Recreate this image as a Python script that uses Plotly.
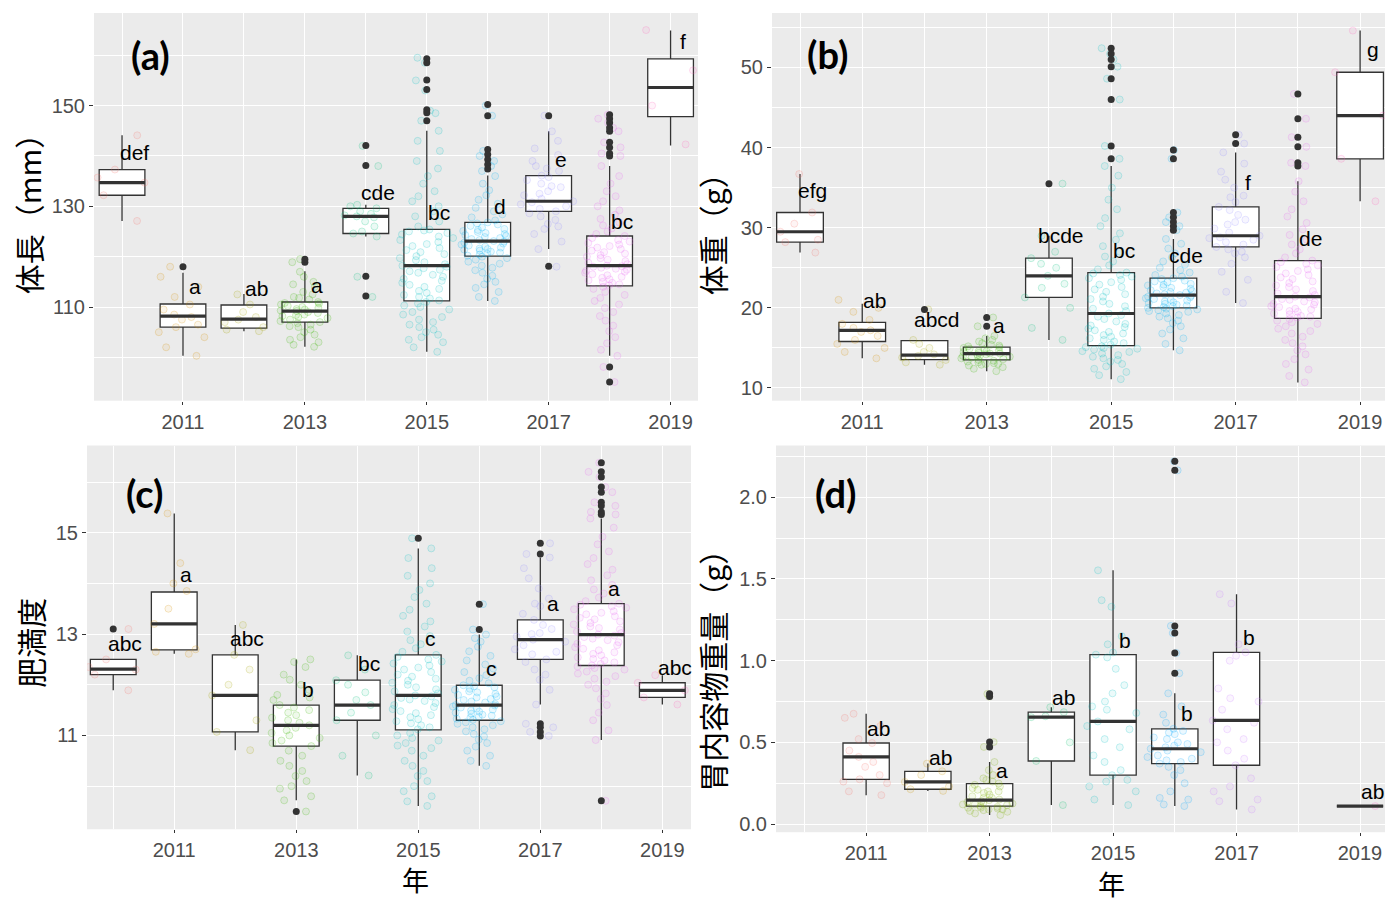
import plotly.graph_objects as go

# ---------------- data ----------------
YEARS10 = [2010, 2011, 2012, 2013, 2014, 2015, 2016, 2017, 2018, 2019]
YEARS8 = [2011, 2012, 2013, 2014, 2015, 2016, 2017, 2019]
PAL10 = ["#F8766D", "#D89000", "#A3A500", "#39B600", "#00BF7D",
         "#00BFC4", "#00B0F6", "#9590FF", "#E76BF3", "#FF62BC"]
PAL8 = ["#F8766D", "#CD9600", "#7CAE00", "#00BE67",
        "#00BFC4", "#00A9FF", "#C77CFF", "#FF61CC"]
TICK_YEARS = [2011, 2013, 2015, 2017, 2019]

# (a) 体長 (mm)
a_q1 = [132.2, 106.0, 105.8, 107.0, 124.6, 111.2, 120.1, 129.0, 114.2, 147.8]
a_med = [134.7, 108.2, 107.6, 109.2, 128.0, 118.2, 123.1, 131.0, 118.2, 153.6]
a_q3 = [137.3, 110.6, 110.4, 111.0, 129.6, 125.4, 126.8, 136.1, 124.1, 159.3]
a_lo = [127.1, 100.3, 105.2, 102.1, 124.0, 101.1, 111.2, 121.5, 100.3, 142.1]
a_hi = [144.1, 116.8, 112.6, 117.1, 130.3, 145.0, 136.1, 144.9, 138.0, 164.9]
a_let = ["def", "a", "ab", "a", "cde", "bc", "d", "e", "bc", "f"]
a_let_y = [140.7, 114.0, 113.6, 114.2, 132.8, 128.8, 130.0, 139.3, 127.0, 162.7]
a_out = {2011: [118.0], 2013: [118.9, 119.5], 2014: [142.1, 138.1, 116.1, 112.2],
         2015: [159.3, 158.5, 155.1, 153.2, 149.2, 148.6, 147.0],
         2016: [150.2, 148.0, 141.3, 140.3, 139.3, 138.3, 137.4],
         2017: [148.0, 118.1],
         2018: [148.2, 147.4, 146.6, 145.6, 144.9, 142.7, 141.7, 140.5, 140.0, 98.1, 95.1]}
a_pts = {
    2010: [144.1, 137.3, 135.7, 134.7, 132.2, 127.1],
    2011: [118, 116, 114, 112, 110.5, 109.5, 108.5, 108, 107.5, 106.5, 106, 105, 104, 102, 100.3],
    2012: [112.5, 110.5, 109, 108, 107.5, 107, 106, 105.5, 105.2],
    2013: [119.5, 118.9, 117, 116, 115, 114.5, 114, 113, 112.5, 112, 111.5, 111, 110.8, 110.5, 110.2,
           110, 109.8, 109.5, 109.3, 109.2, 109, 108.8, 108.5, 108.2, 108, 107.8, 107.5, 107.2, 107,
           106.8, 106.5, 106.2, 106, 105.5, 105, 104.5, 104, 103.5, 103, 102.5, 102.1, 110.7, 109.6,
           108.4, 111.8],
    2014: [142, 138, 130.3, 130, 129.6, 129, 128.5, 128.2, 128, 127.8, 127, 126, 125, 124.6, 124, 116, 112],
    2015: [101.1, 102, 103, 103.5, 104, 104.5, 105, 105.5, 106, 106.5, 107, 107.5, 108, 108.5, 109,
           109.5, 110, 110.3, 110.7, 111, 111.3, 111.7, 112, 112.4, 112.8, 113.2, 113.6, 114, 114.4,
           114.8, 115.2, 115.6, 116, 116.4, 116.8, 117.1, 117.4, 117.7, 118, 118.2, 118.5, 118.9,
           119.3, 119.7, 120.1, 120.5, 120.9, 121.3, 121.7, 122.1, 122.5, 122.9, 123.3, 123.7, 124,
           124.4, 124.7, 125, 125.2, 125.4, 126, 127, 128, 129, 130, 131, 132, 133, 134.5, 136, 137.5,
           139, 141, 143, 145, 147, 148.5, 149, 153, 155, 158.5, 159.5],
    2016: [111.2, 112, 113, 113.8, 114.5, 115, 115.6, 116.2, 116.8, 117.3, 117.8, 118.2, 118.6, 119,
           119.4, 119.7, 120, 120.2, 120.4, 120.6, 120.8, 121, 121.2, 121.4, 121.6, 121.8, 122, 122.2,
           122.4, 122.6, 122.8, 123, 123.1, 121.5, 123.3, 123.5, 123.7, 123.9, 124.1, 124.3, 124.5,
           124.7, 124.9, 125.1, 125.3, 125.5, 125.8, 126.1, 126.4, 126.6, 126.8, 127.2, 127.8, 128.4,
           129, 129.7, 130.5, 131.3, 132.2, 133.2, 134.5, 136, 137, 138, 139, 140, 141, 148, 150],
    2017: [118, 121.5, 123, 124.5, 125.5, 126.5, 127.3, 128, 128.6, 129, 129.5, 130, 130.4, 130.8,
           131, 131.5, 132.2, 133, 133.8, 134.5, 135.2, 135.8, 136.1, 137, 138, 139, 140.2, 141.5,
           143, 144.9, 148, 137.5, 126, 132.5, 134],
    2018: [95.1, 98.1, 100.3, 101.5, 102.8, 104, 105.2, 106.3, 107.3, 108.2, 109, 109.8, 110.5,
           111.2, 111.8, 112.4, 113, 113.6, 114, 114.3, 114.5, 114.8, 115, 115.3, 115.5, 115.8, 116,
           116.3, 116.5, 116.8, 117, 117.2, 117.4, 117.6, 117.8, 118, 118.1, 118.2, 118.5, 118.8,
           119.1, 119.4, 119.7, 120, 120.3, 120.6, 120.9, 121.2, 121.5, 121.8, 122.1, 122.4, 122.7,
           123, 123.3, 123.7, 124.1, 124.5, 125, 125.6, 126.2, 126.8, 127.5, 128.3, 129.2, 130, 131,
           132, 133, 134.5, 136, 138, 140, 140.5, 141.7, 142.7, 144.9, 145.6, 146.6, 147.4, 148.2],
    2019: [165, 157, 150, 142.3],
}

# (b) 体重 (g)
b_q1 = [28.2, 15.8, 13.55, 13.5, 21.3, 15.3, 20.0, 27.6, 18.7, 38.6]
b_med = [29.5, 17.2, 14.1, 14.3, 24.0, 19.3, 21.6, 29.0, 21.4, 44.0]
b_q3 = [31.9, 18.2, 15.9, 15.1, 26.2, 24.4, 23.7, 32.6, 25.9, 49.4]
b_lo = [26.9, 13.7, 12.9, 12.1, 16.0, 11.1, 14.7, 20.6, 10.7, 33.3]
b_hi = [36.7, 20.5, 15.9, 16.5, 29.0, 37.7, 28.6, 39.4, 35.8, 54.6]
b_let = ["efg", "ab", "abcd", "a", "bcde", "bc", "cde", "f", "de", "g"]
b_let_y = [34.6, 20.9, 18.6, 17.8, 29.0, 27.1, 26.5, 35.6, 28.7, 52.2]
b_out = {2012: [19.8], 2013: [17.7, 18.8], 2014: [35.5],
         2015: [52.4, 51.7, 51.0, 50.1, 48.6, 46.0, 40.2, 38.6],
         2016: [39.7, 38.6, 31.9, 31.3, 30.7, 30.2, 29.7],
         2017: [41.6, 40.5],
         2018: [46.7, 43.6, 41.3, 40.1, 38.1, 37.7]}
b_pts = {
    2010: [36.7, 31.9, 30.5, 29.5, 28.5, 28.2, 26.9],
    2011: [21, 20, 19.5, 18.5, 18, 17.5, 17.2, 17, 16.5, 16, 15.5, 15, 14.5, 13.7],
    2012: [19.8, 16, 15.5, 15, 14.5, 14.2, 14, 13.8, 13.5, 13.2, 12.9],
    2013: [12.1, 12.4, 12.6, 12.8, 13, 13.1, 13.2, 13.3, 13.4, 13.5, 13.6, 13.7, 13.8, 13.9, 14, 14.1,
           14.2, 14.3, 14.3, 14.4, 14.5, 14.6, 14.7, 14.8, 14.9, 15, 15.1, 15.2, 15.4, 15.6, 15.8, 16,
           16.2, 16.5, 17.7, 18.8, 13.0, 14.0, 14.6, 12.9, 15.3],
    2014: [35.5, 29, 27, 26.2, 25.5, 25, 24, 23, 22.5, 21.3, 20, 17.5, 16],
    2015: [11.1, 11.6, 12, 12.4, 12.7, 13, 13.3, 13.5, 13.7, 13.9, 14.1, 14.3, 14.5, 14.6, 14.8, 14.9,
           15, 15.1, 15.2, 15.4, 15.6, 15.8, 16, 16.2, 16.4, 16.6, 16.8, 17, 17.2, 17.4, 17.6, 17.8, 18,
           18.3, 18.6, 18.9, 19.1, 19.3, 19.6, 19.9, 20.2, 20.5, 20.8, 21.1, 21.4, 21.7, 22, 22.3, 22.6,
           22.9, 23.2, 23.5, 23.7, 23.9, 24.1, 24.3, 24.4, 24.8, 25.3, 25.8, 26.4, 27, 27.7, 28.5, 29.3,
           30.2, 31.2, 32.3, 33.5, 35, 36.5, 37.7, 38.6, 40.2, 46, 48.6, 50.1, 51, 51.7, 52.4],
    2016: [14.7, 15.5, 16.2, 16.8, 17.3, 17.7, 18.1, 18.4, 18.7, 18.9, 19.1, 19.3, 19.5, 19.6, 19.7,
           19.8, 19.9, 20, 20.1, 20.2, 20.3, 20.4, 20.5, 20.6, 20.7, 20.8, 20.9, 21, 21.1, 21.2, 21.3,
           21.4, 21.5, 21.6, 21.7, 21.8, 21.9, 22, 22.1, 22.2, 22.4, 22.5, 22.6, 22.8, 22.9, 23, 23.2,
           23.3, 23.4, 23.6, 23.7, 23.9, 24.1, 24.4, 24.7, 25, 25.4, 25.8, 26.3, 26.8, 27.4, 28, 28.6,
           29.7, 30.2, 30.7, 31.3, 31.9, 38.6, 39.7],
    2017: [20.6, 22, 23.5, 24.5, 25.5, 26.3, 27, 27.6, 27.9, 28.2, 28.5, 28.8, 29, 29.4, 29.9, 30.4,
           31, 31.6, 32.2, 32.6, 33.2, 34, 35, 36, 37, 38, 39.4, 40.5, 41.6, 26.8, 28.7, 30.7, 33.8, 27.3],
    2018: [10.7, 11.5, 12.3, 13, 13.6, 14.2, 14.7, 15.2, 15.6, 16, 16.4, 16.8, 17.1, 17.4, 17.7, 18,
           18.2, 18.4, 18.6, 18.8, 18.9, 19, 19.2, 19.3, 19.5, 19.6, 19.8, 19.9, 20.1, 20.2, 20.4, 20.5,
           20.7, 20.8, 21, 21.1, 21.3, 21.4, 21.6, 21.8, 22.1, 22.3, 22.6, 22.8, 23.1, 23.3, 23.6, 23.8,
           24.1, 24.3, 24.6, 24.8, 25.1, 25.3, 25.5, 25.7, 25.9, 26.3, 26.8, 27.3, 27.9, 28.5, 29.1,
           29.8, 30.6, 31.4, 32.3, 33.3, 34.5, 35.8, 37.7, 38.1, 40.1, 41.3, 43.6, 46.7],
    2019: [54.6, 49.4, 44, 38.6, 33.3],
}

# (c) 肥満度
c_q1 = [12.20, 12.69, 11.07, 10.79, 11.30, 11.11, 11.30, 12.50, 12.38, 11.75]
c_med = [12.31, 13.20, 11.79, 11.20, 11.60, 11.79, 11.60, 12.89, 12.99, 11.89]
c_q3 = [12.50, 13.83, 12.59, 11.60, 12.09, 12.59, 11.99, 13.28, 13.60, 12.04]
c_lo = [11.89, 12.61, 10.71, 9.72, 10.21, 9.61, 10.40, 11.61, 10.91, 11.61]
c_hi = [12.50, 15.38, 13.18, 12.50, 12.58, 14.69, 12.99, 14.51, 15.28, 12.19]
c_let = ["abc", "a", "abc", "b", "bc", "c", "c", "a", "a", "abc"]
c_let_y = [12.82, 14.17, 12.92, 11.91, 12.41, 12.92, 12.33, 13.61, 13.89, 12.34]
c_out = {2010: [13.10], 2013: [9.50], 2015: [14.89], 2016: [13.09, 13.59],
         2017: [14.79, 14.58, 11.23, 11.16, 11.07, 10.99],
         2018: [16.38, 16.20, 16.10, 15.90, 15.80, 15.60, 15.53, 15.41, 15.36, 9.71]}
c_pts = {
    2010: [13.1, 12.5, 12.35, 12.3, 12.2, 11.89],
    2011: [15.38, 14.4, 14.0, 13.85, 13.5, 13.2, 12.7, 12.65, 12.61],
    2012: [13.18, 12.59, 12.3, 12.0, 11.79, 11.3, 11.07, 10.71],
    2013: [9.5, 9.72, 9.8, 9.95, 10.1, 10.2, 10.3, 10.4, 10.5, 10.6, 10.7, 10.79, 10.85, 10.9, 10.95,
           11.0, 11.05, 11.1, 11.15, 11.2, 11.25, 11.3, 11.35, 11.4, 11.45, 11.5, 11.55, 11.6, 11.7,
           11.8, 11.9, 12.0, 12.1, 12.2, 12.35, 12.5, 10.0, 11.75, 12.45],
    2014: [10.21, 10.6, 11.0, 11.3, 11.45, 11.6, 11.7, 11.85, 12.0, 12.09, 12.3, 12.58],
    2015: [9.61, 9.7, 9.8, 9.9, 10.0, 10.1, 10.2, 10.3, 10.4, 10.5, 10.6, 10.7, 10.75, 10.8, 10.85,
           10.9, 10.95, 11.0, 11.05, 11.12, 11.16, 11.2, 11.24, 11.28, 11.32, 11.36, 11.4, 11.44,
           11.48, 11.52, 11.56, 11.6, 11.64, 11.68, 11.71, 11.74, 11.77, 11.79, 11.83, 11.87, 11.91,
           11.95, 12.0, 12.04, 12.08, 12.12, 12.16, 12.2, 12.25, 12.3, 12.34, 12.38, 12.42, 12.46,
           12.5, 12.55, 12.59, 12.65, 12.72, 12.8, 12.88, 12.96, 13.05, 13.15, 13.25, 13.36, 13.48,
           13.6, 13.73, 13.87, 14.0, 14.15, 14.3, 14.5, 14.69, 14.89],
    2016: [10.4, 10.5, 10.6, 10.7, 10.78, 10.85, 10.92, 10.98, 11.03, 11.08, 11.12, 11.16, 11.2,
           11.23, 11.26, 11.28, 11.31, 11.33, 11.35, 11.37, 11.39, 11.41, 11.43, 11.45, 11.47, 11.49,
           11.51, 11.53, 11.55, 11.57, 11.59, 11.6, 11.62, 11.65, 11.67, 11.7, 11.72, 11.75, 11.77,
           11.8, 11.82, 11.85, 11.87, 11.9, 11.92, 11.95, 11.97, 11.99, 12.03, 12.08, 12.13, 12.19,
           12.25, 12.32, 12.4, 12.48, 12.57, 12.66, 12.75, 12.85, 12.92, 12.99, 13.09, 13.59],
    2017: [10.99, 11.07, 11.16, 11.23, 11.61, 11.9, 12.1, 12.3, 12.45, 12.5, 12.6, 12.7, 12.78, 12.85,
           12.89, 12.95, 13.02, 13.1, 13.18, 13.28, 13.4, 13.55, 13.7, 13.9, 14.1, 14.3, 14.51, 14.58,
           14.79, 12.2, 12.65, 13.0, 13.6],
    2018: [9.71, 10.91, 11.1, 11.3, 11.45, 11.6, 11.72, 11.83, 11.93, 12.0, 12.06, 12.12, 12.17,
           12.22, 12.26, 12.3, 12.33, 12.36, 12.38, 12.41, 12.44, 12.48, 12.51, 12.54, 12.58, 12.61,
           12.64, 12.68, 12.71, 12.74, 12.78, 12.81, 12.84, 12.88, 12.91, 12.94, 12.97, 12.99, 13.02,
           13.05, 13.09, 13.12, 13.15, 13.19, 13.22, 13.25, 13.29, 13.32, 13.35, 13.39, 13.42, 13.45,
           13.49, 13.52, 13.55, 13.58, 13.6, 13.65, 13.72, 13.8, 13.88, 13.97, 14.06, 14.16, 14.27,
           14.38, 14.5, 14.63, 14.77, 14.92, 15.1, 15.28, 15.36, 15.41, 15.53, 15.6, 15.8, 15.9, 16.1,
           16.2, 16.38],
    2019: [12.19, 12.04, 11.89, 11.75, 11.61],
}

# (d) 胃内容物重量 (g)
d_q1 = [0.274, 0.213, 0.110, 0.386, 0.299, 0.370, 0.360, 0.110]
d_med = [0.411, 0.258, 0.146, 0.654, 0.628, 0.461, 0.634, 0.110]
d_q3 = [0.496, 0.323, 0.248, 0.685, 1.037, 0.583, 1.051, 0.110]
d_lo = [0.177, 0.203, 0.055, 0.116, 0.116, 0.110, 0.089, 0.110]
d_hi = [0.675, 0.370, 0.380, 0.715, 1.553, 0.800, 1.407, 0.110]
d_let = ["ab", "ab", "a", "ab", "b", "b", "b", "ab"]
d_let_y = [0.583, 0.41, 0.329, 0.772, 1.122, 0.675, 1.142, 0.197]
d_out = {2013: [0.797, 0.78, 0.502, 0.472], 2016: [2.22, 2.165, 1.213, 1.169, 1.047, 0.923]}
d_pts = {
    2011: [0.675, 0.65, 0.6, 0.52, 0.496, 0.45, 0.411, 0.38, 0.35, 0.3, 0.274, 0.26, 0.25, 0.2, 0.177],
    2012: [0.37, 0.323, 0.3, 0.258, 0.23, 0.213, 0.203],
    2013: [0.055, 0.065, 0.075, 0.08, 0.085, 0.09, 0.095, 0.1, 0.105, 0.11, 0.115, 0.12, 0.125, 0.13,
           0.135, 0.14, 0.146, 0.15, 0.16, 0.17, 0.18, 0.19, 0.2, 0.21, 0.22, 0.23, 0.24, 0.248, 0.26,
           0.28, 0.3, 0.33, 0.38, 0.472, 0.502, 0.78, 0.797, 0.1, 0.12, 0.2, 0.27, 0.09, 0.16],
    2014: [0.715, 0.685, 0.66, 0.654, 0.5, 0.386, 0.116],
    2015: [0.116, 0.15, 0.2, 0.23, 0.26, 0.299, 0.33, 0.38, 0.42, 0.47, 0.52, 0.58, 0.628, 0.68,
           0.72, 0.75, 0.8, 0.85, 0.95, 1.02, 1.037, 1.1, 1.15, 1.33, 1.37, 1.553, 0.6, 0.7, 0.27, 1.05],
    2016: [0.11, 0.12, 0.16, 0.2, 0.25, 0.3, 0.33, 0.35, 0.37, 0.38, 0.4, 0.41, 0.42, 0.44, 0.45,
           0.461, 0.47, 0.49, 0.5, 0.52, 0.53, 0.55, 0.57, 0.583, 0.62, 0.67, 0.72, 0.8, 0.923, 1.047,
           1.169, 1.213, 2.165, 2.22, 0.39, 0.48, 0.56, 0.15],
    2017: [0.089, 0.14, 0.2, 0.23, 0.28, 0.36, 0.4, 0.45, 0.5, 0.52, 0.58, 0.634, 0.7, 0.75, 0.77,
           0.83, 1.0, 1.03, 1.051, 1.1, 1.35, 1.407, 0.62, 0.15],
    2019: [0.11],
}

# ---------------- styling ----------------
W, H = 1385, 902
TICK_FONT = dict(family="Liberation Sans, Arial, sans-serif", size=20, color="#4D4D4D")
LET_FONT = dict(family="Liberation Sans, Arial, sans-serif", size=21, color="#000000")
CJK_FONT = "Noto Sans CJK JP"
BOX_LINE = "#333333"
BOX_W = 0.75


def rgba(hex_color, a):
    h = hex_color.lstrip("#")
    r, g, b = int(h[0:2], 16), int(h[2:4], 16), int(h[4:6], 16)
    return f"rgba({r},{g},{b},{a})"


fig = go.Figure()

panels = [
    (YEARS10, a_q1, a_med, a_q3, a_lo, a_hi, a_let, a_let_y, a_out, a_pts, PAL10, ""),
    (YEARS10, b_q1, b_med, b_q3, b_lo, b_hi, b_let, b_let_y, b_out, b_pts, PAL10, "2"),
    (YEARS10, c_q1, c_med, c_q3, c_lo, c_hi, c_let, c_let_y, c_out, c_pts, PAL10, "3"),
    (YEARS8, d_q1, d_med, d_q3, d_lo, d_hi, d_let, d_let_y, d_out, d_pts, PAL8, "4"),
]

annotations = []
for (yrs, q1, med, q3, lo, hi, lets, let_y, outs, pts, pal, sfx) in panels:
    xa, ya = "x" + sfx, "y" + sfx
    fig.add_trace(go.Box(
        x=yrs, q1=q1, median=med, q3=q3, lowerfence=lo, upperfence=hi,
        boxpoints=False, fillcolor="white", width=BOX_W, whiskerwidth=0,
        line=dict(color=BOX_LINE, width=1.3), xaxis=xa, yaxis=ya,
        showlegend=False, hoverinfo="skip"))
    for yr, col in zip(yrs, pal):
        vals = pts[yr]
        fig.add_trace(go.Box(
            x=[yr] * len(vals), y=vals, boxpoints="all", jitter=1, pointpos=0,
            width=0.95, fillcolor="rgba(0,0,0,0)",
            line=dict(width=0, color="rgba(0,0,0,0)"),
            marker=dict(size=7, color=rgba(col, 0.08),
                        line=dict(width=1, color=rgba(col, 0.22))),
            xaxis=xa, yaxis=ya, showlegend=False, hoverinfo="skip"))
    mx, my = [], []
    for yr, m in zip(yrs, med):
        mx += [yr - BOX_W / 2, yr + BOX_W / 2, None]
        my += [m, m, None]
    fig.add_trace(go.Scatter(x=mx, y=my, mode="lines", line=dict(color=BOX_LINE, width=3.2),
                             xaxis=xa, yaxis=ya, showlegend=False, hoverinfo="skip"))
    ox, oy = [], []
    for yr, vals in outs.items():
        ox += [yr] * len(vals)
        oy += vals
    fig.add_trace(go.Scatter(x=ox, y=oy, mode="markers",
                             marker=dict(size=7, color=BOX_LINE),
                             xaxis=xa, yaxis=ya, showlegend=False, hoverinfo="skip"))
    for yr, t, ly in zip(yrs, lets, let_y):
        annotations.append(dict(x=yr + 0.2, y=ly, xref=xa, yref=ya, text=t, showarrow=False,
                                font=LET_FONT, xanchor="center", yanchor="middle"))


def xaxis(domain, rng, anchor):
    return dict(domain=domain, range=rng, anchor=anchor, tickmode="array", tickvals=TICK_YEARS,
                ticks="outside", ticklen=3, tickwidth=1, tickcolor="#333333",
                showgrid=True, gridcolor="white", gridwidth=1.4, zeroline=False, showline=False,
                tickfont=TICK_FONT,
                minor=dict(tickmode="linear", tick0=2010, dtick=1, showgrid=True,
                           gridcolor="white", gridwidth=0.7, ticks=""))


def yaxis(domain, rng, anchor, tick0, dtick, mtick0, mdtick, fmt=None):
    ax = dict(domain=domain, range=rng, anchor=anchor, tickmode="linear", tick0=tick0, dtick=dtick,
              ticks="outside", ticklen=4, tickwidth=1, tickcolor="#333333",
              showgrid=True, gridcolor="white", gridwidth=1.4, zeroline=False, showline=False,
              tickfont=TICK_FONT,
              minor=dict(tickmode="linear", tick0=mtick0, dtick=mdtick, showgrid=True,
                         gridcolor="white", gridwidth=0.7, ticks=""))
    if fmt:
        ax["tickformat"] = fmt
    return ax


def px_x(p):
    return p / W


def px_y(p):
    return 1 - p / H


fig.update_layout(
    width=W, height=H, margin=dict(l=0, r=0, t=0, b=0),
    paper_bgcolor="white", plot_bgcolor="#EBEBEB", boxmode="overlay",
    xaxis=xaxis([px_x(94), px_x(698)], [2009.54, 2019.45], "y"),
    yaxis=yaxis([px_y(402), px_y(13)], [91.4, 168.4], "x", 110, 20, 100, 10),
    xaxis2=xaxis([px_x(772), 1.0], [2009.55, 2019.40], "y2"),
    yaxis2=yaxis([px_y(402), px_y(13)], [8.42, 56.8], "x2", 10, 10, 5, 5),
    xaxis3=xaxis([px_x(87), px_x(691)], [2009.57, 2019.47], "y3"),
    yaxis3=yaxis([px_y(832), px_y(447)], [9.15, 16.72], "x3", 11, 2, 10, 1),
    xaxis4=xaxis([px_x(776), 1.0], [2009.54, 2019.405], "y4"),
    yaxis4=yaxis([px_y(835), px_y(447)], [-0.05, 2.317], "x4", 0, 0.5, 0.25, 0.5, ".1f"),
)

for txt, cx, cy in [("(a)", 150, 55), ("(b)", 828, 54), ("(c)", 144, 495), ("(d)", 835, 495)]:
    annotations.append(dict(x=px_x(cx), y=px_y(cy), xref="paper", yref="paper", text=txt,
                            showarrow=False, xanchor="center", yanchor="middle",
                            font=dict(family="Lato, Open Sans, sans-serif", size=38, color="black",
                                      weight="bold")))

for txt, cx, cy in [("体長（mm）", 28, 207), ("体重（g）", 712, 228),
                    ("肥満度", 30, 645), ("胃内容物重量（g）", 712, 666)]:
    annotations.append(dict(x=px_x(cx), y=px_y(cy), xref="paper", yref="paper", text=txt,
                            textangle=-90, showarrow=False, xanchor="center", yanchor="middle",
                            font=dict(family=CJK_FONT, size=30, color="black")))
for cx, cy in [(415, 882), (1111, 886)]:
    annotations.append(dict(x=px_x(cx), y=px_y(cy), xref="paper", yref="paper", text="年",
                            showarrow=False, xanchor="center", yanchor="middle",
                            font=dict(family=CJK_FONT, size=27, color="black")))

fig.update_layout(annotations=annotations)

fig.write_html("out.html", config={"displayModeBar": False},
               post_script="document.body.style.margin='0';document.body.style.overflow='hidden';")
